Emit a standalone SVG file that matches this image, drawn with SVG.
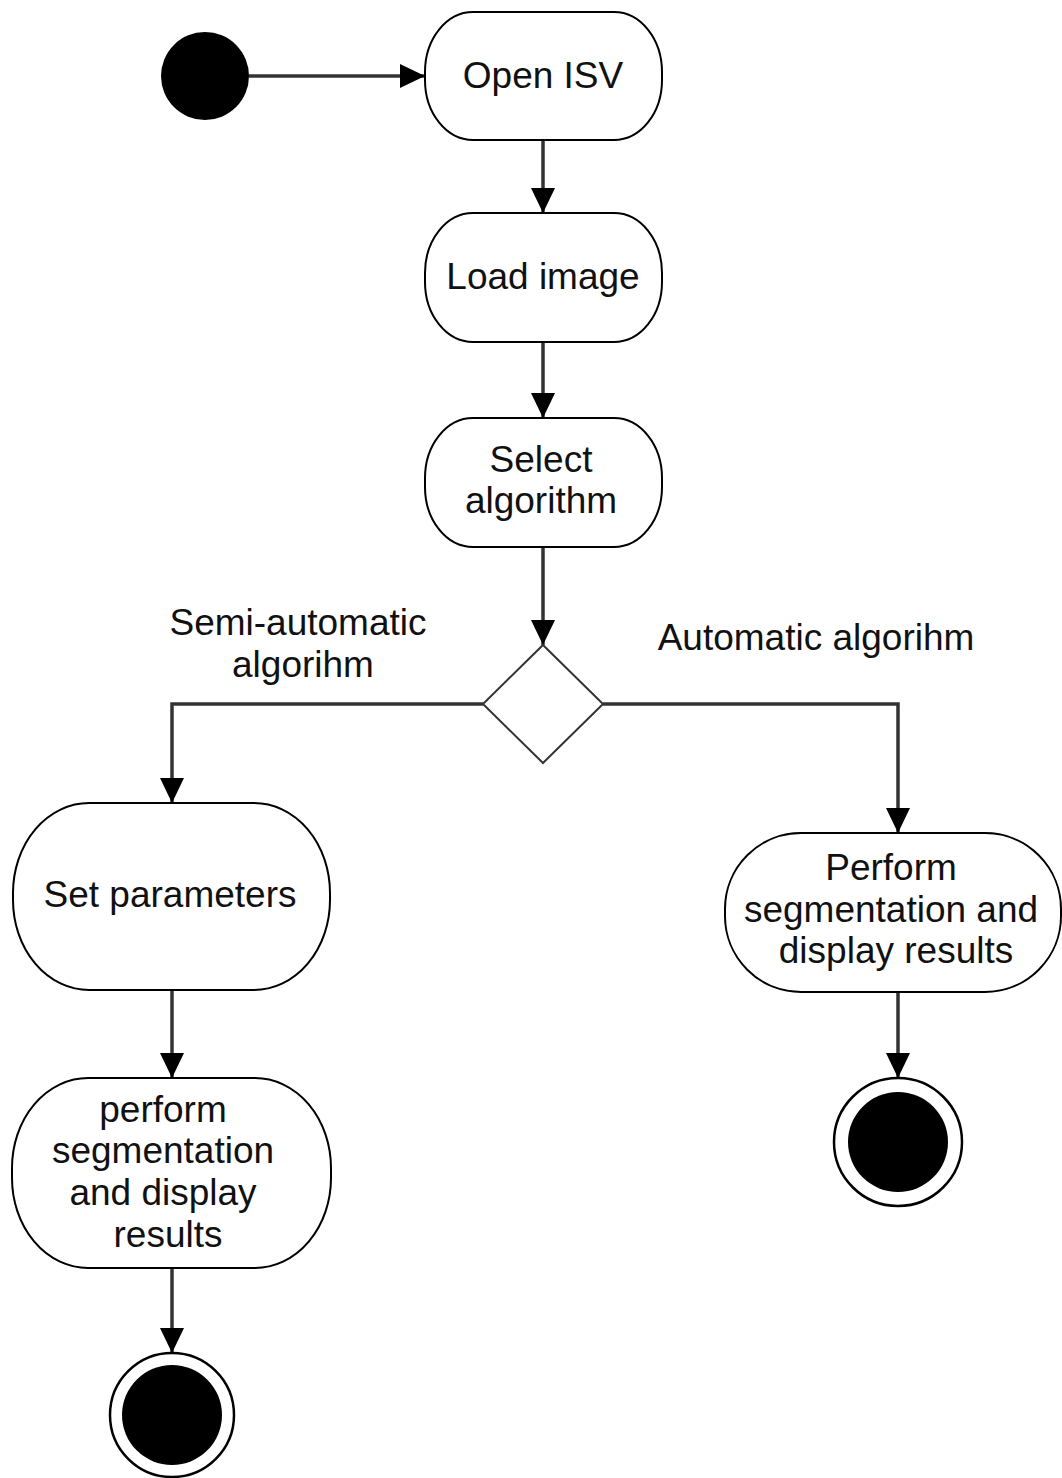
<svg xmlns="http://www.w3.org/2000/svg" width="1062" height="1478" viewBox="0 0 1062 1478">
  <style>
    .bg { fill: #ffffff; }
    .action { fill: #ffffff; stroke: #000000; stroke-width: 2; }
    .decision { fill: #ffffff; stroke: #333333; stroke-width: 2; }
    .start, .end-dot { fill: #000000; }
    .end-ring { fill: #ffffff; stroke: #000000; stroke-width: 2.5; }
    .flow { fill: none; stroke: #333333; stroke-width: 3.5; marker-end: url(#arrow); }
    text { font-family: "Liberation Sans", Arial, sans-serif; font-size: 37px; fill: #111111; text-anchor: middle; }
  </style>
  <defs>
    <marker id="arrow" markerUnits="userSpaceOnUse" markerWidth="26" markerHeight="26" viewBox="0 0 26 26" refX="25" refY="13" orient="auto">
      <path d="M0,1 L25,13 L0,25 Z" fill="#000000"/>
    </marker>
  </defs>
  <rect class="bg" x="0" y="0" width="1062" height="1478"/>

  <!-- connectors -->
  <g id="connectors">
    <path class="flow" d="M249,76 L425,76"/>
    <path class="flow" d="M543,140 L543,213"/>
    <path class="flow" d="M543,342 L543,418"/>
    <path class="flow" d="M543,547 L543,645"/>
    <path class="flow" d="M483,704 L172,704 L172,803"/>
    <path class="flow" d="M603,704 L898,704 L898,833"/>
    <path class="flow" d="M172,990 L172,1078"/>
    <path class="flow" d="M172,1268 L172,1353"/>
    <path class="flow" d="M898,992 L898,1078"/>
  </g>

  <!-- initial node -->
  <g id="start">
    <circle class="start" cx="205" cy="76" r="44"/>
  </g>

  <g id="open-isv">
    <rect class="action" x="425" y="12" width="237" height="128" rx="48" ry="60"/>
    <text x="543" y="88">Open ISV</text>
  </g>

  <g id="load-image">
    <rect class="action" x="425" y="213" width="237" height="129" rx="48" ry="60"/>
    <text x="543" y="289">Load image</text>
  </g>

  <g id="select-algorithm">
    <rect class="action" x="425" y="418" width="237" height="129" rx="48" ry="60"/>
    <text x="541" y="472">Select</text>
    <text x="541" y="513">algorithm</text>
  </g>

  <g id="decision">
    <path class="decision" d="M543,645 L603,704 L543,763 L483,704 Z"/>
  </g>

  <g id="label-semi">
    <text x="298" y="635">Semi-automatic</text>
    <text x="303" y="677">algorihm</text>
  </g>

  <g id="label-auto">
    <text x="816" y="650">Automatic algorihm</text>
  </g>

  <g id="set-parameters">
    <rect class="action" x="13" y="803" width="317" height="187" rx="76" ry="90"/>
    <text x="170" y="907">Set parameters</text>
  </g>

  <g id="perform-semi">
    <rect class="action" x="12" y="1078" width="319" height="190" rx="76" ry="90"/>
    <text x="163" y="1122">perform</text>
    <text x="163" y="1163">segmentation</text>
    <text x="163" y="1205">and display</text>
    <text x="168" y="1247">results</text>
  </g>

  <g id="perform-auto">
    <rect class="action" x="725" y="833" width="336" height="159" rx="76" ry="76"/>
    <text x="891" y="880">Perform</text>
    <text x="891" y="922">segmentation and</text>
    <text x="896" y="963">display results</text>
  </g>

  <!-- final nodes -->
  <g id="end-semi">
    <circle class="end-ring" cx="172" cy="1415" r="62"/>
    <circle class="end-dot" cx="172" cy="1415" r="50"/>
  </g>

  <g id="end-auto">
    <circle class="end-ring" cx="898" cy="1142" r="64"/>
    <circle class="end-dot" cx="898" cy="1142" r="50"/>
  </g>
</svg>
